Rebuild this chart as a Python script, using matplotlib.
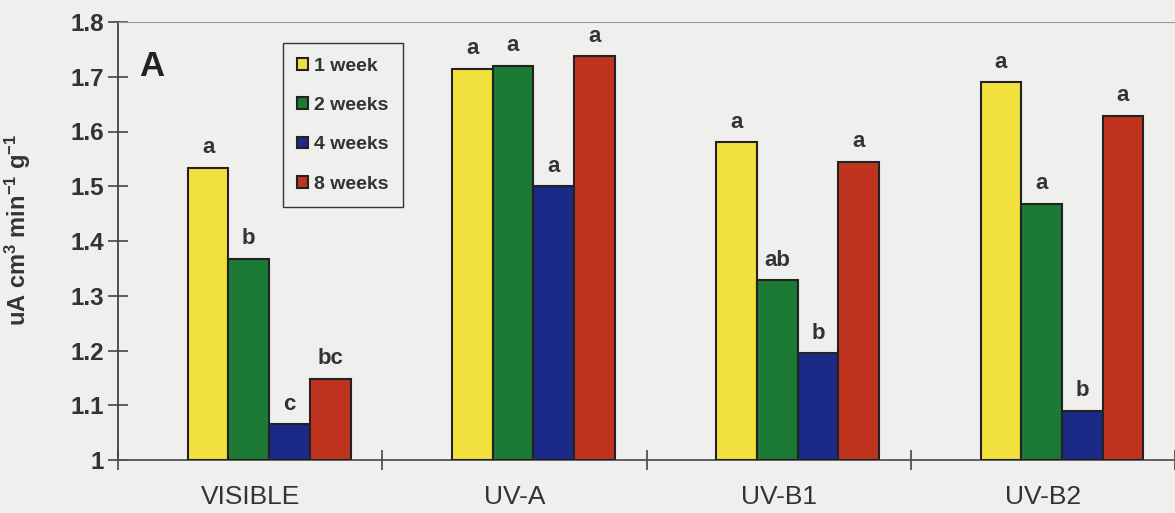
import numpy as np
from matplotlib import pyplot as plt

plt.rcParams['font.family'] = ['Liberation Sans', 'DejaVu Sans']
plt.rcParams['mathtext.fontset'] = 'custom'
plt.rcParams['mathtext.rm'] = 'Liberation Sans:bold'
plt.rcParams['mathtext.bf'] = 'Liberation Sans:bold'
plt.rcParams['mathtext.it'] = 'Liberation Sans:bold'

treatments = ['VISIBLE', 'UV-A', 'UV-B1', 'UV-B2']
series = ['1 week', '2 weeks', '4 weeks', '8 weeks']
week1 = [1.533, 1.715, 1.580, 1.690]
week2 = [1.368, 1.720, 1.328, 1.468]
week4 = [1.065, 1.500, 1.195, 1.090]
week8 = [1.148, 1.737, 1.545, 1.628]
letters1 = ['a', 'a', 'a', 'a']
letters2 = ['b', 'a', 'ab', 'a']
letters4 = ['c', 'a', 'b', 'b']
letters8 = ['bc', 'a', 'a', 'a']

colors = ['#f2e03c', '#1c7a34', '#1a2a86', '#c0331f']
bg = '#efefed'


def main():
    fig = plt.figure(figsize=(11.75, 5.13), dpi=100, facecolor=bg)
    ax = fig.add_axes([118 / 1175, 1 - 460 / 513, 1057 / 1175, 438 / 513])
    ax.set_facecolor(bg)

    x = np.arange(len(treatments))
    w = 0.154
    start = -0.5 + 0.264 + w / 2
    values = [week1, week2, week4, week8]
    letters = [letters1, letters2, letters4, letters8]
    for k in range(4):
        pos = x + start + k * w
        bars = ax.bar(pos, np.array(values[k]) - 1, w, bottom=1, color=colors[k],
                      edgecolor='#222222', linewidth=1.5, label=series[k], zorder=3)
        for b, lab in zip(bars, letters[k]):
            ax.annotate(lab, (b.get_x() + b.get_width() / 2, b.get_y() + b.get_height()),
                        xytext=(0, 7), textcoords='offset points', ha='center',
                        va='bottom', fontsize=16, fontweight='bold', color='#333333')

    ax.set_ylim(1, 1.8)
    ax.set_xlim(-0.5, 3.474)
    ax.set_yticks(np.arange(1, 1.81, 0.1))
    ax.set_yticklabels(['1', '1.1', '1.2', '1.3', '1.4', '1.5', '1.6', '1.7', '1.8'],
                       fontsize=17.5, fontweight='bold', color='#333333')
    ax.tick_params(axis='y', direction='inout', length=14, width=1.2, color='#444444', pad=3)

    ax.set_xticks(np.arange(-0.5, 3.6, 1.0))
    ax.set_xticklabels([])
    ax.tick_params(axis='x', which='major', direction='inout', length=14, width=1.2, color='#444444')
    ax.set_xticks(x, minor=True)
    ax.set_xticklabels(treatments, minor=True, fontsize=19, color='#333333')
    ax.tick_params(axis='x', which='minor', length=0, pad=18)

    ax.spines['right'].set_visible(False)
    ax.spines['top'].set_linestyle((0, (2, 1)))
    ax.spines['top'].set_color('#999999')
    ax.spines['bottom'].set_linestyle((0, (3, 1)))
    ax.spines['bottom'].set_color('#555555')
    ax.spines['bottom'].set_linewidth(1.3)
    ax.spines['left'].set_color('#444444')
    ax.spines['left'].set_linewidth(1.3)

    ax.set_ylabel('uA cm$^{3}$ min$^{-1}$ g$^{-1}$', fontsize=17,
                  fontweight='bold', color='#333333')
    ax.yaxis.set_label_coords(-0.080, 0.525)

    ax.text(0.02, 0.935, 'A', transform=ax.transAxes, fontsize=25, fontweight='bold',
            color='#222222', va='top')

    leg = ax.legend(loc='upper left', bbox_to_anchor=(0.156, 0.952), borderaxespad=0,
                    prop={'weight': 'bold', 'size': 14}, frameon=True,
                    fancybox=False, handlelength=0.55, handleheight=0.55,
                    handletextpad=0.3, labelspacing=1.15, borderpad=0.75)
    leg.get_frame().set_edgecolor('#333333')
    leg.get_frame().set_facecolor(bg)
    leg.get_frame().set_linewidth(1.0)
    leg.get_frame().set_alpha(1)
    for t in leg.get_texts():
        t.set_color('#333333')

    fig.savefig('out.png', dpi=100, facecolor=bg)


if __name__ == '__main__':
    main()
